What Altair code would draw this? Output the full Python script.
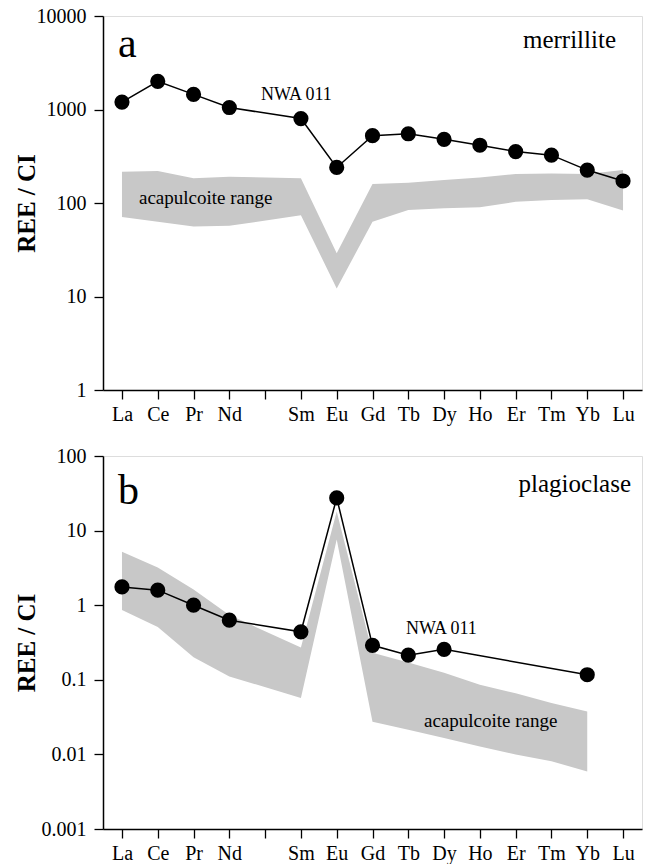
import altair as alt
import pandas as pd

elements = ["La", "Ce", "Pr", "Nd", "Pm", "Sm", "Eu", "Gd", "Tb", "Dy", "Ho", "Er", "Tm", "Yb", "Lu"]
tick_labels = ["La", "Ce", "Pr", "Nd", "", "Sm", "Eu", "Gd", "Tb", "Dy", "Ho", "Er", "Tm", "Yb", "Lu"]

# (a) merrillite
merr_nwa = [1200, 2000, 1450, 1050, None, 800, 240, 525, 550, 480, 415, 355, 325, 225, 172]
merr_lo = [71, 63, 56, 57, None, 74, 12.2, 63, 84, 88, 90, 103, 108, 110, 83]
merr_hi = [216, 220, 184, 191, None, 184, 29, 160, 165, 176, 187, 204, 207, 204, 225]

# (b) plagioclase
plag_nwa = [1.76, 1.59, 1.0, 0.63, None, 0.44, 27.4, 0.29, 0.214, 0.256, None, None, None, 0.117, None]
plag_lo = [0.86, 0.51, 0.2, 0.111, None, 0.057, 7.6, 0.0275, 0.0214, 0.0166, 0.0128, 0.01, 0.0081, 0.0059, None]
plag_hi = [5.2, 3.2, 1.62, 0.74, None, 0.27, 18, 0.23, 0.17, 0.124, 0.086, 0.066, 0.049, 0.0376, None]

y_ticks_a = [1, 10, 100, 1000, 10000]
y_ticks_b = [0.001, 0.01, 0.1, 1, 10, 100]

FONT = "Liberation Serif, Times New Roman, serif"
W = 539
HA = 374
HB = 373
label_js = "[" + ",".join("'%s'" % t for t in tick_labels) + "][datum.value]"

def frame(nwa, lo, hi):
    return pd.DataFrame({"idx": list(range(len(elements))), "el": elements,
                         "nwa": nwa, "lo": lo, "hi": hi})

def text_mark(txt, x, y, size, align="left"):
    return alt.Chart(pd.DataFrame({"k": [0]})).mark_text(
        text=txt, font=FONT, fontSize=size, align=align, baseline="alphabetic", color="black"
    ).encode(x=alt.value(x), y=alt.value(y))

def panel(df, dom, yvals, fmt, h, texts):
    xenc = alt.X("idx:Q", scale=alt.Scale(domain=[-0.53, 14.53], nice=False, zero=False),
                 axis=alt.Axis(values=list(range(15)), tickCount=30, labelExpr=label_js, title=None,
                               grid=False, tickSize=9, labelPadding=5, labelFontSize=20, labelFont=FONT,
                               labelOverlap=False, labelFlush=False,
                               domainColor="black", tickColor="black", domainWidth=1.5,
                               tickWidth=1.3, labelColor="black"))
    ysc = alt.Scale(type="log", domain=dom, nice=False)
    yax = alt.Axis(values=yvals, tickCount=20, format=fmt, title="REE / CI", grid=False, tickSize=9,
                   labelPadding=8, labelFontSize=20, labelFont=FONT, titleFont=FONT, titleFontSize=25,
                   labelOverlap=False, labelFlush=False,
                   titleFontWeight="bold", titleX=-69, titleY=h / 2, titleAngle=270,
                   titleBaseline="alphabetic", titleAlign="center",
                   domainColor="black", tickColor="black", domainWidth=1.5, tickWidth=1.3,
                   labelColor="black", titleColor="black")
    base = alt.Chart(df)
    area = base.transform_filter("isValid(datum.lo)").mark_area(color="#c8c8c8", opacity=1).encode(
        x=xenc, y=alt.Y("lo:Q", scale=ysc, axis=yax), y2="hi:Q")
    line = base.transform_filter("isValid(datum.nwa)").mark_line(color="black", strokeWidth=1.5).encode(
        x="idx:Q", y="nwa:Q")
    pts = base.transform_filter("isValid(datum.nwa)").mark_circle(color="black", opacity=1, size=230).encode(
        x="idx:Q", y="nwa:Q")
    layers = [area, line, pts] + [text_mark(*t) for t in texts]
    return alt.layer(*layers).properties(width=W, height=h)

pa = panel(frame(merr_nwa, merr_lo, merr_hi), [1, 10000], y_ticks_a, "d", HA, [
    ("a", 15, 41, 42),
    ("merrillite", 513, 32, 25, "right"),
    ("NWA 011", 158, 84, 18),
    ("acapulcoite range", 36, 188, 19),
])
pb = panel(frame(plag_nwa, plag_lo, plag_hi), [0.001, 100], y_ticks_b, "~g", HB, [
    ("b", 15, 48, 42),
    ("plagioclase", 528, 36, 25, "right"),
    ("NWA 011", 303, 178, 18),
    ("acapulcoite range", 321, 271, 19),
])

chart = alt.vconcat(pa, pb, spacing=20).properties(
    padding={"left": 13, "top": 5, "right": 5, "bottom": 5}
).configure_view(stroke="#555", strokeWidth=1.2).configure(background="white", font=FONT)

chart.save("out.html", embed_options={"renderer": "svg", "actions": False})
